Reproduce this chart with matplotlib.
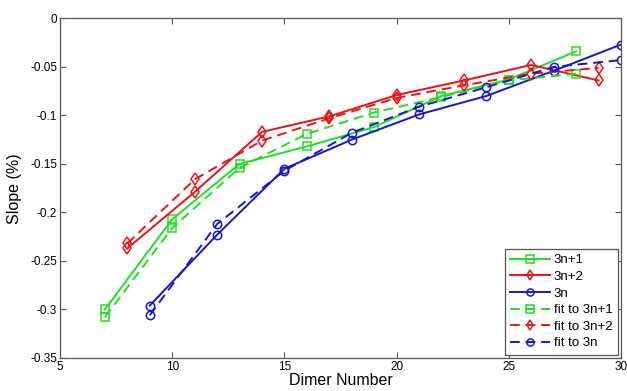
import matplotlib
matplotlib.use("Agg")
import matplotlib.pyplot as plt

plt.rcParams['font.family'] = ['Liberation Sans', 'DejaVu Sans']
plt.rcParams['axes.unicode_minus'] = False

x_3n1 = [7, 10, 13, 16, 19, 22, 25, 28]
y_3n1 = [-0.300, -0.207, -0.150, -0.132, -0.112, -0.080, -0.063, -0.034]
y_fit_3n1 = [-0.308, -0.216, -0.154, -0.119, -0.097, -0.081, -0.064, -0.057]

x_3n2 = [8, 11, 14, 17, 20, 23, 26, 29]
y_3n2 = [-0.237, -0.179, -0.117, -0.101, -0.079, -0.064, -0.048, -0.064]
y_fit_3n2 = [-0.232, -0.166, -0.126, -0.103, -0.082, -0.069, -0.057, -0.051]

x_3n = [9, 12, 15, 18, 21, 24, 27, 30]
y_3n = [-0.296, -0.223, -0.155, -0.125, -0.099, -0.080, -0.054, -0.027]
y_fit_3n = [-0.306, -0.212, -0.157, -0.118, -0.091, -0.071, -0.050, -0.043]

xticks = [5, 10, 15, 20, 25, 30]
yticks = [0, -0.05, -0.1, -0.15, -0.2, -0.25, -0.3, -0.35]
ytick_labels = ['0', '-0.05', '-0.1', '-0.15', '-0.2', '-0.25', '-0.3', '-0.35']

green = '#1fe01f'
red = '#ee1111'
blue = '#1515d8'

fig = plt.figure(figsize=(6.27, 3.91), dpi=100)
ax = fig.add_axes([0.0957, 0.0844, 0.8947, 0.8686])

kw = dict(linewidth=1.4, markersize=6, markerfacecolor='none', markeredgewidth=1.1)
ax.plot(x_3n1, y_3n1, '-', color=green, marker='s', label='3n+1', **kw)
ax.plot(x_3n2, y_3n2, '-', color=red, marker='d', label='3n+2', **kw)
ax.plot(x_3n, y_3n, '-', color=blue, marker='o', label='3n', **kw)
ax.plot(x_3n1, y_fit_3n1, '--', color=green, marker='s', label='fit to 3n+1', dashes=(5, 3), **kw)
ax.plot(x_3n2, y_fit_3n2, '--', color=red, marker='d', label='fit to 3n+2', dashes=(5, 3), **kw)
ax.plot(x_3n, y_fit_3n, '--', color=blue, marker='o', label='fit to 3n', dashes=(5, 3), **kw)

ax.set_xlim(5, 30)
ax.set_ylim(-0.35, 0)
ax.set_xticks(xticks)
ax.set_xticklabels([str(t) for t in xticks])
ax.set_yticks(yticks)
ax.set_yticklabels(ytick_labels)
ax.tick_params(direction='in', top=True, right=True, labelsize=8.5, length=4,
               color='#555555', width=0.8, pad=2)
for s in ax.spines.values():
    s.set_color('#555555')
    s.set_linewidth(0.9)

ax.set_xlabel('Dimer Number', fontsize=11.5)
ax.xaxis.set_label_coords(0.5, -0.043)
ax.xaxis.label.set_verticalalignment('top')
ax.set_ylabel('Slope (%)', fontsize=11.5)
ax.yaxis.set_label_coords(-0.068, 0.5)

leg = ax.legend(loc='lower right', fontsize=9.5, handlelength=3.0, handletextpad=0.3,
                labelspacing=0.33, borderpad=0.4, borderaxespad=0.25, markerscale=0.85,
                fancybox=False, framealpha=1, edgecolor='#555555')
leg.get_frame().set_linewidth(0.9)

fig.savefig('out.png', dpi=100)
